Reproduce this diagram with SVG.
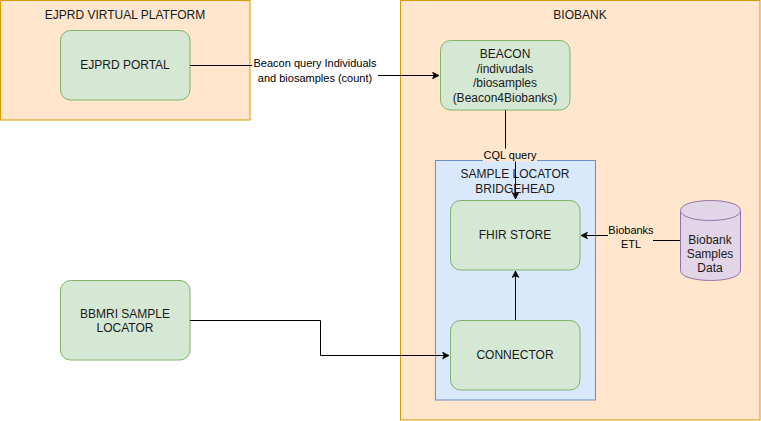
<svg xmlns="http://www.w3.org/2000/svg" width="761" height="421" viewBox="0 0 761 421">
<defs>
<style>
.container{fill:#ffe6cc;stroke:#d79b00;stroke-width:1}
.bridge{fill:#dae8fc;stroke:#6c8ebf;stroke-width:1}
.node{fill:#d5e8d4;stroke:#82b366;stroke-width:1}
.db{fill:#e1d5e7;stroke:#9673a6;stroke-width:1}
text{font-family:"Liberation Sans",Arial,Helvetica,sans-serif;fill:#1a1a1a;text-anchor:middle}
.t12{font-size:12px}
.t11{font-size:11px;fill:#000}
.edge{fill:none;stroke:#000;stroke-width:1}
</style>
<marker id="arrow" viewBox="0 0 10 10" refX="9" refY="5" markerWidth="8" markerHeight="8" markerUnits="userSpaceOnUse" orient="auto">
<path d="M1,1 L9,5 L1,9 L3,5 z" fill="#000" stroke="#000" stroke-width="1"/>
</marker>
</defs>

<g id="ejprd-platform">
<rect class="container" x="0.5" y="0.5" width="249.5" height="119.5"/>
<text class="t12" x="125" y="18.5">EJPRD VIRTUAL PLATFORM</text>
</g>

<g id="biobank">
<rect class="container" x="400.5" y="0.5" width="359.5" height="419.5"/>
<text class="t12" x="580" y="18.5">BIOBANK</text>
</g>

<g id="bridgehead">
<rect class="bridge" x="435.5" y="160.5" width="160" height="239.5"/>
<text class="t12" x="515" y="178">SAMPLE LOCATOR</text>
<text class="t12" x="515" y="192.5">BRIDGEHEAD</text>
</g>

<g id="ejprd-portal">
<rect class="node" x="60.5" y="30.5" width="129.5" height="69.5" rx="10" ry="10"/>
<text class="t12" x="125" y="69">EJPRD PORTAL</text>
</g>

<g id="beacon">
<rect class="node" x="440.5" y="40.5" width="129.5" height="69.5" rx="10" ry="10"/>
<text class="t12" x="505" y="58">BEACON</text>
<text class="t12" x="505" y="72.5">/indivudals</text>
<text class="t12" x="505" y="87">/biosamples</text>
<text class="t12" x="505" y="101.5">(Beacon4Biobanks)</text>
</g>

<g id="fhir-store">
<rect class="node" x="450.5" y="200.5" width="129.5" height="69.5" rx="10" ry="10"/>
<text class="t12" x="515" y="239">FHIR STORE</text>
</g>

<g id="connector">
<rect class="node" x="450.5" y="320.5" width="129.5" height="69.5" rx="10" ry="10"/>
<text class="t12" x="515" y="359">CONNECTOR</text>
</g>

<g id="bbmri-sample-locator">
<rect class="node" x="60.5" y="280.5" width="129.5" height="79.5" rx="10" ry="10"/>
<text class="t12" x="125" y="317.5">BBMRI SAMPLE</text>
<text class="t12" x="125" y="331.5">LOCATOR</text>
</g>

<g id="biobank-samples-data">
<path class="db" d="M680.5,210.5 C680.5,197.2 740.5,197.2 740.5,210.5 L740.5,270.5 C740.5,283.8 680.5,283.8 680.5,270.5 Z"/>
<path class="db" d="M680.5,210.5 C680.5,223.8 740.5,223.8 740.5,210.5" fill="none"/>
<text class="t12" x="710" y="243.5">Biobank</text>
<text class="t12" x="710" y="257.5">Samples</text>
<text class="t12" x="710" y="272">Data</text>
</g>

<g id="connectors">
<path class="edge" d="M190,65.5 L315.5,65.5 L315.5,75.5 L439,75.5" marker-end="url(#arrow)"/>
<rect x="252" y="56" width="126" height="29" fill="#ffffff"/>
<text class="t11" x="315" y="67">Beacon query Individuals</text>
<text class="t11" x="315" y="81.5">and biosamples (count)</text>

<path class="edge" d="M505.5,110 L505.5,155.5 L515.5,155.5 L515.5,199" marker-end="url(#arrow)"/>
<rect x="483" y="148.5" width="54" height="13" fill="#ffe6cc"/>
<text class="t11" x="510" y="159">CQL query</text>

<path class="edge" d="M680,240.5 L630.5,240.5 L630.5,235.5 L581,235.5" marker-end="url(#arrow)"/>
<rect x="608" y="223" width="45" height="28" fill="#ffe6cc"/>
<text class="t11" x="631" y="234">Biobanks</text>
<text class="t11" x="631" y="248">ETL</text>

<path class="edge" d="M515.5,320 L515.5,271" marker-end="url(#arrow)"/>

<path class="edge" d="M190,320.5 L320.5,320.5 L320.5,355.5 L449,355.5" marker-end="url(#arrow)"/>
</g>
</svg>
